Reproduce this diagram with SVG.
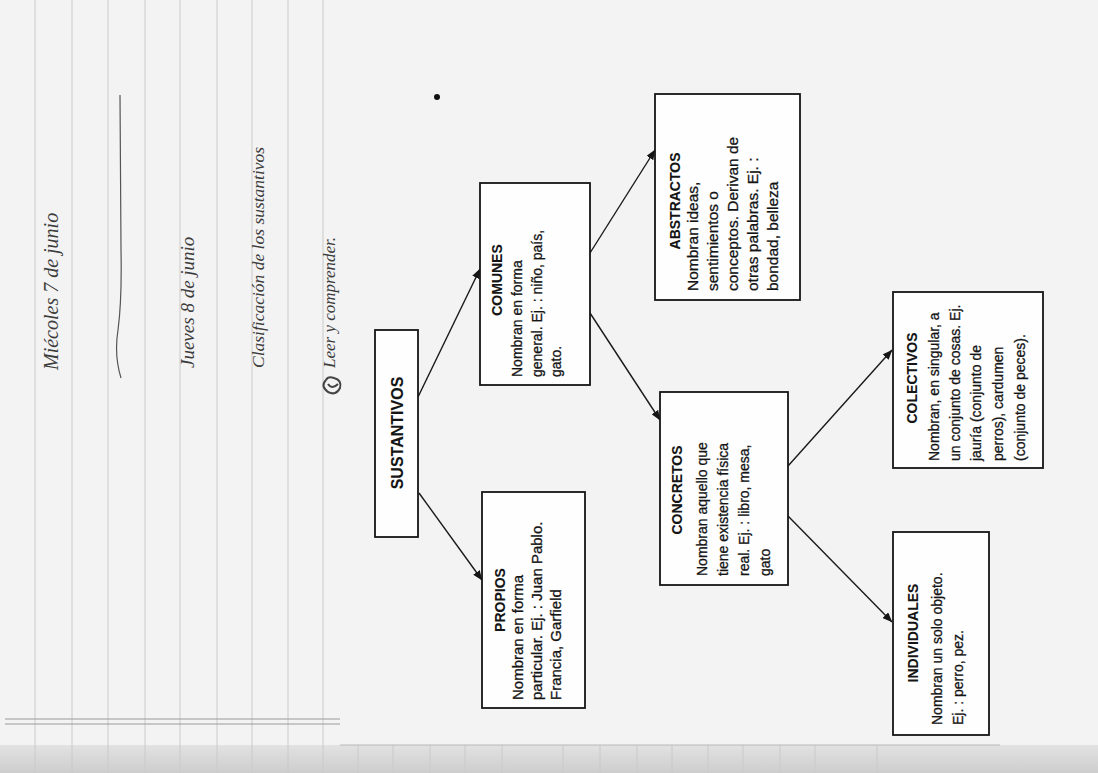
<svg xmlns="http://www.w3.org/2000/svg" width="1098" height="773" viewBox="0 0 1098 773">
<defs>
<marker id="ah" viewBox="0 0 10 8" refX="9.5" refY="4" markerWidth="10" markerHeight="8" markerUnits="userSpaceOnUse" orient="auto">
<path d="M0,0 L10,4 L0,8 Z" fill="#151515"/>
</marker>
<linearGradient id="strip" x1="0" y1="0" x2="0" y2="1">
<stop offset="0" stop-color="#e2e2e2"/>
<stop offset="1" stop-color="#cdcdcd"/>
</linearGradient>
</defs>
<style>
.box{fill:#fefefe;stroke:#151515;stroke-width:1.8}
.t{font-family:"Liberation Sans",Arial,sans-serif;font-size:14px;fill:#141414;stroke:#141414;stroke-width:0.3}
.h{font-weight:bold;stroke-width:0.1}
.big{font-size:15px}
.t2{font-size:15.5px}
.ttl{font-size:16px}
.hw{font-family:"Liberation Serif","DejaVu Serif",serif;font-style:italic;fill:#3c3c3c}
.rule{stroke:#cacaca;stroke-width:1}
.conn line{stroke:#1a1a1a;stroke-width:1.4;marker-end:url(#ah)}
</style>
<!-- paper -->
<rect x="0" y="0" width="1098" height="773" fill="#f3f3f3"/>
<rect x="0" y="745" width="1098" height="28" fill="url(#strip)"/>
<g id="ruling">
<line class="rule" x1="35" y1="0" x2="35" y2="773"/>
<line class="rule" x1="72" y1="0" x2="72" y2="773"/>
<line class="rule" x1="108" y1="0" x2="108" y2="773"/>
<line class="rule" x1="145" y1="0" x2="145" y2="773"/>
<line class="rule" x1="180" y1="0" x2="180" y2="773"/>
<line class="rule" x1="217" y1="0" x2="217" y2="773"/>
<line class="rule" x1="252" y1="0" x2="252" y2="773"/>
<line class="rule" x1="288" y1="0" x2="288" y2="773"/>
<line class="rule" x1="323" y1="0" x2="323" y2="773"/>
<line class="rule" x1="358" y1="745" x2="358" y2="773"/>
<line class="rule" x1="393" y1="745" x2="393" y2="773"/>
<line class="rule" x1="430" y1="745" x2="430" y2="773"/>
<line class="rule" x1="465" y1="745" x2="465" y2="773"/>
<line class="rule" x1="502" y1="745" x2="502" y2="773"/>
<line class="rule" x1="563" y1="745" x2="563" y2="773"/>
<line class="rule" x1="600" y1="745" x2="600" y2="773"/>
<line class="rule" x1="637" y1="745" x2="637" y2="773"/>
<line class="rule" x1="672" y1="745" x2="672" y2="773"/>
<line class="rule" x1="708" y1="745" x2="708" y2="773"/>
<line class="rule" x1="743" y1="745" x2="743" y2="773"/>
<line class="rule" x1="780" y1="745" x2="780" y2="773"/>
<line class="rule" x1="815" y1="745" x2="815" y2="773"/>
<line class="rule" x1="877" y1="745" x2="877" y2="773"/>
<line x1="340" y1="745" x2="1000" y2="745" stroke="#b8b8b8" stroke-width="1"/>
<line x1="5" y1="719" x2="340" y2="719" stroke="#9a9a9a" stroke-width="1"/>
<line x1="5" y1="724" x2="340" y2="724" stroke="#9a9a9a" stroke-width="1"/>
</g>
<!-- handwriting -->
<g id="handwriting">
<text class="hw" font-size="20" transform="translate(58,370) rotate(-90)">Miécoles 7 de junio</text>
<path d="M120,95 L121,250 Q122,300 118,330 Q114,355 121,378" fill="none" stroke="#555" stroke-width="1.2"/>
<text class="hw" font-size="19" transform="translate(194,368) rotate(-90)">Jueves 8 de junio</text>
<text class="hw" font-size="17.5" transform="translate(264,368) rotate(-90)">Clasificación de los sustantivos</text>
<text class="hw" font-size="17" transform="translate(335,368) rotate(-90)">Leer y comprender.</text>
<path d="M326,380 q-6,6 2,12 q8,4 12,-4 q2,-8 -6,-10 q-6,-2 -8,2 M328,384 q4,6 10,0" fill="none" stroke="#444" stroke-width="2"/>
<circle cx="437" cy="97" r="3" fill="#111"/>
</g>
<!-- connectors -->
<g id="connectors" class="conn">
<line x1="418" y1="397" x2="480" y2="269"/>
<line x1="419" y1="493" x2="482" y2="580"/>
<line x1="590" y1="253" x2="655" y2="150"/>
<line x1="590" y1="313" x2="660" y2="420"/>
<line x1="788" y1="466" x2="892" y2="350"/>
<line x1="788" y1="516" x2="892" y2="622"/>
</g>
<g id="sustantivos">
<rect class="box" x="375" y="330" width="43" height="207"/>
<text class="t h ttl" text-anchor="middle" transform="translate(403,433) rotate(-90)">SUSTANTIVOS</text>
</g>
<g id="propios">
<rect class="box" x="482" y="492" width="103" height="216"/>
<text class="t h" text-anchor="middle" transform="translate(505,600) rotate(-90)">PROPIOS</text>
<text class="t big" transform="translate(523,700) rotate(-90)">Nombran en forma</text>
<text class="t big" transform="translate(542,700) rotate(-90)">particular. Ej. : Juan Pablo.</text>
<text class="t big" transform="translate(561,700) rotate(-90)">Francia, Garfield</text>
</g>
<g id="comunes">
<rect class="box" x="480" y="183" width="110" height="202"/>
<text class="t h" text-anchor="middle" transform="translate(502,280) rotate(-90)">COMUNES</text>
<text class="t" transform="translate(522,377) rotate(-90)">Nombran en forma</text>
<text class="t" transform="translate(542,377) rotate(-90)">general. Ej. : niño, país,</text>
<text class="t" transform="translate(561,377) rotate(-90)">gato.</text>
</g>
<g id="abstractos">
<rect class="box" x="655" y="94" width="145" height="206"/>
<text class="t h" text-anchor="middle" transform="translate(680,201) rotate(-90)">ABSTRACTOS</text>
<text class="t t2" transform="translate(698,291) rotate(-90)">Nombran ideas,</text>
<text class="t t2" transform="translate(718,291) rotate(-90)">sentimientos o</text>
<text class="t t2" transform="translate(738,291) rotate(-90)">conceptos. Derivan de</text>
<text class="t t2" transform="translate(758,291) rotate(-90)">otras palabras. Ej. :</text>
<text class="t t2" transform="translate(778,291) rotate(-90)">bondad, belleza</text>
</g>
<g id="concretos">
<rect class="box" x="660" y="392" width="128" height="193"/>
<text class="t h" text-anchor="middle" transform="translate(682,490) rotate(-90)">CONCRETOS</text>
<text class="t" transform="translate(707,576) rotate(-90)">Nombran aquello que</text>
<text class="t" transform="translate(728,576) rotate(-90)">tiene existencia física</text>
<text class="t" transform="translate(749,576) rotate(-90)">real. Ej. : libro, mesa,</text>
<text class="t" transform="translate(770,576) rotate(-90)">gato</text>
</g>
<g id="colectivos">
<rect class="box" x="893" y="292" width="150" height="176"/>
<text class="t h" text-anchor="middle" transform="translate(917,378) rotate(-90)">COLECTIVOS</text>
<text class="t" transform="translate(939,461) rotate(-90)">Nombran, en singular, a</text>
<text class="t" transform="translate(960,461) rotate(-90)">un conjunto de cosas. Ej.</text>
<text class="t" transform="translate(981,461) rotate(-90)">jauría (conjunto de</text>
<text class="t" transform="translate(1003,461) rotate(-90)">perros), cardumen</text>
<text class="t" transform="translate(1025,461) rotate(-90)">(conjunto de peces).</text>
</g>
<g id="individuales">
<rect class="box" x="893" y="532" width="96" height="203"/>
<text class="t h" text-anchor="middle" transform="translate(918,633) rotate(-90)">INDIVIDUALES</text>
<text class="t" transform="translate(942,725) rotate(-90)">Nombran un solo objeto.</text>
<text class="t" transform="translate(963,725) rotate(-90)">Ej. : perro, pez.</text>
</g>
</svg>
